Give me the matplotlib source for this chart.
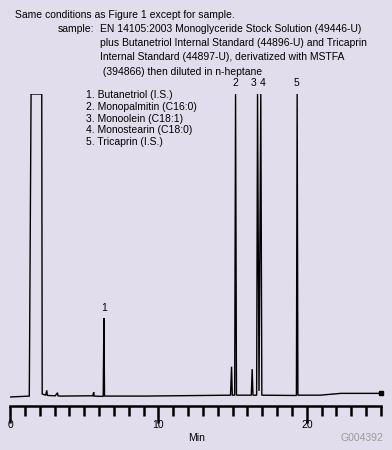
import matplotlib
matplotlib.use("Agg")
import matplotlib.pyplot as plt
from matplotlib.ticker import MultipleLocator

W, H = 392, 450
BG = "#e2ddec"

# chromatogram trace (time in min, detector response in % of full scale)
time_min = [0.0, 1.30, 1.42, 2.14, 2.17, 2.40, 2.48, 2.51, 2.55, 3.05, 3.20, 3.23,
            3.40, 5.58, 5.64, 5.67, 6.28, 6.33, 6.37, 9.0, 14.86, 14.93, 14.98,
            15.14, 15.20, 15.26, 16.26, 16.32, 16.37, 16.62, 16.68, 16.78, 16.90,
            16.97, 19.30, 19.35, 19.40, 20.9, 22.3, 25.0]
signal = [0.0, 0.3, 100, 100, 1.0, 0.6, 2.2, 0.6, 0.5, 0.4, 1.4, 0.4,
          0.3, 0.4, 1.6, 0.3, 0.2, 26, 0.3, 0.3, 0.6, 10, 0.6,
          0.6, 100, 0.6, 0.6, 9.2, 0.6, 0.6, 100, 2.0, 100,
          0.6, 0.5, 100, 0.6, 0.6, 1.2, 1.2]

peak_labels = ["1", "2", "3", "4", "5"]
peak_label_x = [6.33, 15.2, 16.43, 17.04, 19.33]
peak_label_y = [29.5, 103.5, 103.5, 103.5, 103.5]

peak_names = ["1. Butanetriol (I.S.)",
              "2. Monopalmitin (C16:0)",
              "3. Monoolein (C18:1)",
              "4. Monostearin (C18:0)",
              "5. Tricaprin (I.S.)"]

header = ["Same conditions as Figure 1 except for sample."]
sample_lines = ["EN 14105:2003 Monoglyceride Stock Solution (49446-U)",
                "plus Butanetriol Internal Standard (44896-U) and Tricaprin",
                "Internal Standard (44897-U), derivatized with MSTFA",
                " (394866) then diluted in n-heptane"]

plt.rcParams['font.family'] = ['Liberation Sans', 'DejaVu Sans']
fig = plt.figure(figsize=(W / 100, H / 100), dpi=100, facecolor=BG)

# axes: x 0..25 from px 10 to 381; bottom spine at px 405.5; y=100 at px 94
left, right = 10, 381
bottom, top = 405.5, 94
ax = fig.add_axes([left / W, 1 - bottom / H, (right - left) / W, (bottom - top) / H])
ax.set_facecolor(BG)
ymin = -(bottom - 397) * 100 / (397 - top)
ax.set_xlim(0, 25)
ax.set_ylim(ymin, 100)

ax.plot(time_min, signal, color="black", lw=1.0, solid_joinstyle="miter", clip_on=True)
ax.plot([time_min[-1]], [signal[-1]], marker="s", ms=2.5, color="black", clip_on=False)

for lab, x, y in zip(peak_labels, peak_label_x, peak_label_y):
    ax.text(x, y, lab, ha="center", va="center", fontsize=7.5, clip_on=False)

for s in ["left", "right", "top"]:
    ax.spines[s].set_visible(False)
ax.spines["bottom"].set_linewidth(1.8)
ax.set_yticks([])
ax.xaxis.set_major_locator(MultipleLocator(10))
ax.xaxis.set_minor_locator(MultipleLocator(1))
ax.tick_params(axis="x", which="major", length=12, width=1.8, labelsize=7.5, pad=-1.5)
ax.tick_params(axis="x", which="minor", length=7, width=1.8)

fig.text(197 / W, 1 - 438 / H, "Min", ha="center", va="center", fontsize=7.5)
fig.text(383 / W, 1 - 438 / H, "G004392", ha="right", va="center", fontsize=7.5, color="#9a9a9a")

fig.text(15 / W, 1 - 15 / H, header[0], ha="left", va="center", fontsize=7.5)
fig.text(58 / W, 1 - 29 / H, "sample:", ha="left", va="center", fontsize=7.5)
for i, line in enumerate(sample_lines):
    fig.text(100 / W, 1 - (29 + 14.2 * i) / H, line, ha="left", va="center", fontsize=7.5)

for i, name in enumerate(peak_names):
    fig.text(86 / W, 1 - (95 + 11.8 * i) / H, name, ha="left", va="center", fontsize=7.5)

fig.savefig("out.png", dpi=100, facecolor=BG)
